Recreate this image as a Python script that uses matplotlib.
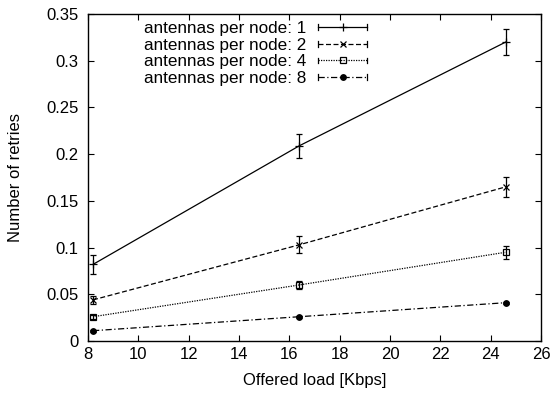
import matplotlib
matplotlib.use("Agg")
import matplotlib.pyplot as plt
from matplotlib.lines import Line2D
from matplotlib.legend_handler import HandlerLine2D

plt.rcParams['font.family'] = ['Liberation Sans', 'DejaVu Sans']

load = [8.2, 16.4, 24.6]
labels = ["antennas per node: 1", "antennas per node: 2",
          "antennas per node: 4", "antennas per node: 8"]
retries = [
    [0.082, 0.209, 0.320],
    [0.044, 0.103, 0.165],
    [0.026, 0.060, 0.095],
    [0.011, 0.026, 0.041],
]
errors = [
    [0.010, 0.013, 0.014],
    [0.004, 0.009, 0.011],
    [0.002, 0.004, 0.007],
    [0.001, 0.001, 0.001],
]
xticks = [8, 10, 12, 14, 16, 18, 20, 22, 24, 26]
yticks = [0, 0.05, 0.1, 0.15, 0.2, 0.25, 0.3, 0.35]
ytick_labels = ["0", "0.05", "0.1", "0.15", "0.2", "0.25", "0.3", "0.35"]

styles = [
    dict(ls='-', marker='+', ms=6, mfc='black'),
    dict(ls=(0, (4, 2)), marker='x', ms=4, mfc='black'),
    dict(ls=(0, (1, 1)), marker='s', ms=4, mfc='none'),
    dict(ls=(0, (5, 2, 1, 2)), marker='o', ms=4, mfc='black'),
]


class CapHandler(HandlerLine2D):
    def create_artists(self, legend, orig_handle, xdescent, ydescent,
                       width, height, fontsize, trans):
        arts = super().create_artists(legend, orig_handle, xdescent, ydescent,
                                      width, height, fontsize, trans)
        y = (height - ydescent) / 2.0
        c = 2.0
        x0 = -xdescent
        x1 = -xdescent + width
        for xx in (x0, x1):
            cap = Line2D([xx, xx], [y - c, y + c], color='black', lw=0.9)
            cap.set_transform(trans)
            arts.append(cap)
        return arts


fig = plt.figure(figsize=(5.51, 3.99), dpi=100)
ax = fig.add_axes([88/551, 1-341/399, (541-88)/551, (341-14)/399])

handles = []
for y, e, lab, st in zip(retries, errors, labels, styles):
    ax.errorbar(load, y, yerr=e, color='black', lw=0.9, elinewidth=0.9,
                capsize=2.3, capthick=0.9, ls=st['ls'], marker=st['marker'],
                ms=st['ms'], mfc=st['mfc'], mec='black', mew=0.9)
    handles.append(Line2D([], [], color='black', lw=0.9, ls=st['ls'],
                          marker=st['marker'], ms=st['ms'], mfc=st['mfc'],
                          mec='black', mew=0.9))

ax.set_xlim(8, 26)
ax.set_ylim(0, 0.35)
ax.set_xticks(xticks)
ax.set_yticks(yticks)
ax.set_yticklabels(ytick_labels)
ax.tick_params(direction='in', top=True, right=True, length=4.5, width=0.8,
               labelsize=12)
ax.tick_params(axis='y', pad=7)
ax.tick_params(axis='x', pad=4)
for s in ax.spines.values():
    s.set_linewidth(1.0)
ax.set_xlabel("Offered load [Kbps]", fontsize=12, va='center')
ax.set_ylabel("Number of retries", fontsize=12, va='center')
ax.xaxis.set_label_coords(0.5, -40/327)
ax.yaxis.set_label_coords(-72/453, 0.5)

leg = fig.legend(handles, labels, loc='upper right',
                 bbox_to_anchor=(367/551, 1-21/399),
                 frameon=False, markerfirst=False, fontsize=12.3,
                 handlelength=2.85, labelspacing=0.1, handletextpad=0.7,
                 borderaxespad=0.0, borderpad=0.0,
                 handler_map={Line2D: CapHandler(numpoints=1)})

fig.savefig("out.png", dpi=100)
